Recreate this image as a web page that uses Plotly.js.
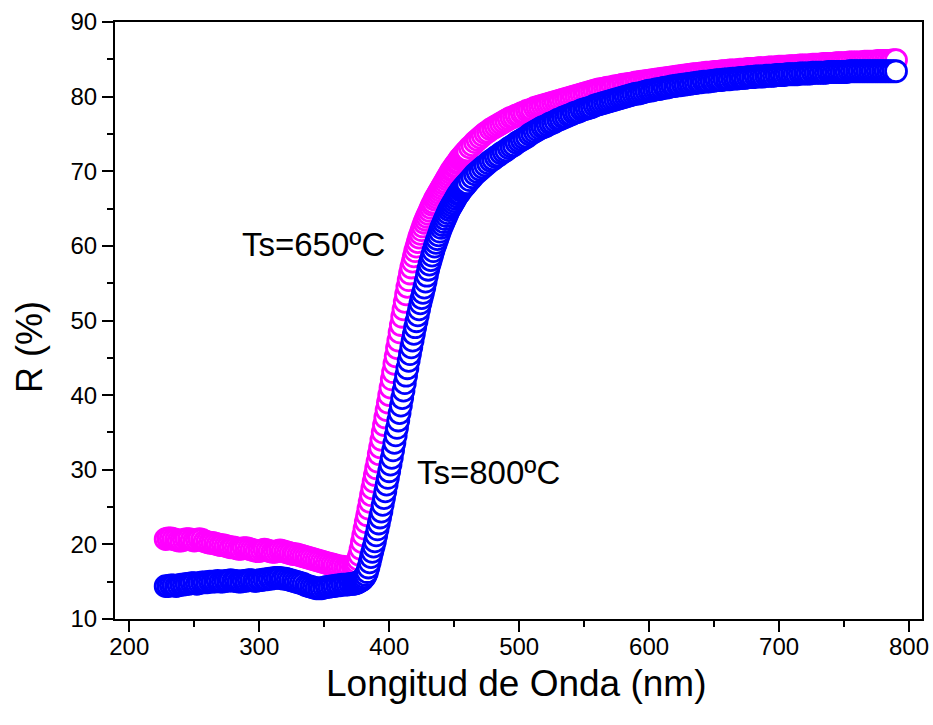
<!DOCTYPE html>
<html>
<head>
<meta charset="utf-8">
<script src="https://cdn.plot.ly/plotly-3.0.1.min.js"></script>
<style>html,body{margin:0;padding:0;background:#fff;}#chart{width:933px;height:725px;}</style>
</head>
<body>
<div id="chart"></div>
<script>
// Wavelength grid (nm), shared by both series
const wavelength = [
228,230,232,234,236,238,240,242,244,246,248,250,252,254,256,258,260,262,264,266,
268,270,272,274,276,278,280,282,284,286,288,290,292,294,296,298,300,302,304,306,
308,310,312,314,316,318,320,322,324,326,328,330,332,334,336,338,340,342,344,346,
348,350,352,354,356,358,360,362,364,366,368,370,372,
373,374,375,376,377,378,379,380,381,382,383,384,385,386,387,388,389,390,391,392,
393,394,395,396,397,398,399,400,401,402,403,404,405,406,407,408,409,410,411,412,
413,414,415,416,417,418,419,420,421,422,423,424,425,426,427,428,429,430,431,432,
433,434,435,436,437,438,439,440,441,442,443,444,445,446,447,448,449,450,451,452,
453,454,455,456,457,458,459,460,
462,464,466,468,470,472,474,476,478,480,482,484,486,488,490,492,494,496,498,500,
502,504,506,508,510,512,514,516,518,520,522,524,526,528,530,532,534,536,538,540,
542,544,546,548,550,552,554,556,558,560,562,564,566,568,570,572,574,576,578,580,
582,584,586,588,590,592,594,596,598,600,602,604,606,608,610,612,614,616,618,620,
622,624,626,628,630,632,634,636,638,640,642,644,646,648,650,652,654,656,658,660,
662,664,666,668,670,672,674,676,678,680,682,684,686,688,690,692,694,696,698,700,
702,704,706,708,710,712,714,716,718,720,722,724,726,728,730,732,734,736,738,740,
742,744,746,748,750,752,754,756,758,760,762,764,766,768,770,772,774,776,778,780,
782,784,786,788,790
];

// R (%) for Ts = 650 ºC (magenta)
const r650 = [
20.7,20.8,20.8,20.7,20.6,20.5,20.5,20.6,20.7,20.7,
20.6,20.5,20.6,20.7,20.6,20.4,20.3,20.2,20.2,20.1,
20.0,19.9,19.9,19.8,19.7,19.6,19.6,19.5,19.4,19.4,
19.5,19.5,19.4,19.3,19.2,19.1,19.1,19.2,19.3,19.2,
19.1,19.0,19.0,19.1,19.2,19.1,19.0,18.9,18.8,18.7,
18.7,18.6,18.5,18.4,18.3,18.2,18.1,18.0,17.9,17.8,
17.7,17.6,17.5,17.4,17.3,17.2,17.1,17.0,17.0,16.9,
16.9,16.9,17.0,
17.1,17.3,17.6,18.0,18.6,19.4,20.3,21.2,22.1,23.0,
23.9,24.8,25.7,26.6,27.5,28.4,29.3,30.2,31.1,32.1,
33.0,34.0,35.0,36.0,37.0,38.0,39.0,40.0,41.0,42.1,
43.1,44.2,45.2,46.3,47.3,48.4,49.4,50.5,51.5,52.5,
53.5,54.5,55.4,56.3,57.1,57.9,58.6,59.3,59.9,60.5,
61.1,61.6,62.1,62.6,63.1,63.5,63.9,64.3,64.7,65.1,
65.5,65.8,66.2,66.5,66.8,67.1,67.4,67.7,68.0,68.3,
68.6,68.9,69.2,69.5,69.8,70.1,70.3,70.6,70.8,71.1,
71.3,71.6,71.8,72.0,72.2,72.4,72.6,72.8,
73.2,73.5,73.9,74.2,74.5,74.8,75.1,75.3,75.6,75.8,
76.0,76.2,76.4,76.6,76.8,77.0,77.2,77.3,77.5,77.6,
77.8,77.9,78.1,78.2,78.3,78.5,78.6,78.7,78.8,78.9,
79.0,79.1,79.2,79.3,79.4,79.5,79.6,79.7,79.8,79.9,
80.0,80.1,80.2,80.3,80.4,80.5,80.6,80.7,80.8,80.9,
81.0,81.0,81.1,81.2,81.2,81.3,81.4,81.4,81.5,81.6,
81.6,81.7,81.7,81.8,81.9,81.9,82.0,82.0,82.1,82.1,
82.2,82.2,82.3,82.3,82.4,82.4,82.5,82.5,82.6,82.6,
82.7,82.7,82.8,82.8,82.9,82.9,83.0,83.0,83.0,83.1,
83.1,83.2,83.2,83.2,83.3,83.3,83.3,83.4,83.4,83.4,
83.5,83.5,83.5,83.5,83.6,83.6,83.6,83.7,83.7,83.7,
83.7,83.8,83.8,83.8,83.8,83.9,83.9,83.9,83.9,84.0,
84.0,84.0,84.0,84.1,84.1,84.1,84.1,84.2,84.2,84.2,
84.2,84.2,84.3,84.3,84.3,84.3,84.4,84.4,84.4,84.4,
84.4,84.5,84.5,84.5,84.5,84.5,84.6,84.6,84.6,84.6,
84.6,84.6,84.7,84.7,84.7,84.7,84.7,84.8,84.8,84.8,
84.8,84.8,84.8,84.9,84.9
];

// R (%) for Ts = 800 ºC (blue)
const r800 = [
14.4,14.4,14.5,14.5,14.4,14.5,14.6,14.6,14.7,14.7,
14.8,14.8,14.7,14.8,14.9,14.9,14.9,15.0,15.0,15.0,
15.1,15.0,15.0,15.1,15.1,15.2,15.1,15.1,15.0,15.0,
15.1,15.1,15.2,15.2,15.1,15.1,15.2,15.2,15.3,15.3,
15.4,15.4,15.5,15.5,15.5,15.4,15.4,15.3,15.2,15.1,
15.0,14.9,14.8,14.7,14.5,14.4,14.3,14.2,14.1,14.1,
14.1,14.2,14.3,14.3,14.4,14.4,14.5,14.5,14.6,14.6,
14.6,14.7,14.7,
14.7,14.8,14.8,14.9,15.0,15.1,15.2,15.4,15.6,15.9,
16.3,16.9,17.6,18.3,19.0,19.7,20.4,21.2,22.0,22.8,
23.6,24.4,25.3,26.2,27.1,28.0,28.9,29.8,30.7,31.6,
32.6,33.6,34.6,35.6,36.6,37.6,38.6,39.6,40.6,41.6,
42.6,43.6,44.6,45.5,46.4,47.3,48.2,49.1,49.9,50.7,
51.5,52.3,53.0,53.7,54.4,55.2,56.0,56.8,57.5,58.1,
58.7,59.3,59.9,60.4,60.9,61.4,61.9,62.4,62.8,63.2,
63.6,64.0,64.4,64.8,65.1,65.4,65.7,66.0,66.3,66.6,
66.9,67.1,67.4,67.6,67.8,68.0,68.2,68.4,
68.8,69.2,69.6,69.9,70.2,70.5,70.8,71.1,71.4,71.6,
71.9,72.1,72.4,72.6,72.8,73.1,73.3,73.5,73.8,74.0,
74.2,74.4,74.6,74.9,75.1,75.3,75.5,75.7,75.9,76.0,
76.2,76.4,76.5,76.7,76.9,77.0,77.2,77.3,77.5,77.6,
77.8,77.9,78.0,78.2,78.3,78.4,78.5,78.6,78.8,78.9,
79.0,79.1,79.2,79.3,79.4,79.5,79.6,79.7,79.8,79.9,
80.0,80.1,80.2,80.3,80.4,80.4,80.5,80.6,80.7,80.8,
80.8,80.9,81.0,81.0,81.1,81.2,81.2,81.3,81.4,81.4,
81.5,81.5,81.6,81.6,81.7,81.7,81.8,81.8,81.9,81.9,
82.0,82.0,82.0,82.1,82.1,82.2,82.2,82.2,82.3,82.3,
82.3,82.4,82.4,82.4,82.5,82.5,82.5,82.6,82.6,82.6,
82.7,82.7,82.7,82.7,82.8,82.8,82.8,82.8,82.9,82.9,
82.9,82.9,83.0,83.0,83.0,83.0,83.0,83.1,83.1,83.1,
83.1,83.1,83.2,83.2,83.2,83.2,83.2,83.2,83.3,83.3,
83.3,83.3,83.3,83.3,83.3,83.3,83.4,83.4,83.4,83.4,
83.4,83.4,83.4,83.4,83.4,83.4,83.4,83.4,83.4,83.4,
83.4,83.4,83.4,83.4,83.4
];

const xTicks = [200, 300, 400, 500, 600, 700, 800];
const yTicks = [10, 20, 30, 40, 50, 60, 70, 80, 90];
const labels = ['Ts=650ºC', 'Ts=800ºC'];
const labelX = [341.5, 476.5];
const labelY = [60.2, 29.6];
const xTitle = 'Longitud de Onda (nm)';
const yTitle = 'R (%)';

const FONT = 'Liberation Sans, Arial, sans-serif';

const traces = [
  {
    x: wavelength, y: r650, type: 'scatter', mode: 'markers', name: labels[0],
    marker: {symbol: 'circle', size: 21, color: '#ffffff', line: {color: '#ff00ff', width: 2.8}}
  },
  {
    x: wavelength, y: r800, type: 'scatter', mode: 'markers', name: labels[1],
    marker: {symbol: 'circle', size: 21, color: '#ffffff', line: {color: '#0000ff', width: 2.8}}
  }
];

const axisCommon = {
  showline: true, linewidth: 2, linecolor: '#000', mirror: true,
  showgrid: false, zeroline: false,
  ticks: 'outside', ticklen: 11, tickwidth: 2, tickcolor: '#000',
  tickfont: {family: FONT, size: 24, color: '#000'}
};

const layout = {
  width: 933, height: 725,
  margin: {l: 115, r: 11, t: 22, b: 106, pad: 0},
  paper_bgcolor: '#fff', plot_bgcolor: '#fff',
  showlegend: false,
  font: {family: FONT, color: '#000'},
  xaxis: Object.assign({}, axisCommon, {
    range: [189, 810], tickmode: 'array', tickvals: xTicks, ticktext: xTicks.map(String),
    ticklabelstandoff: -6,
    minor: {ticks: 'outside', ticklen: 6, tickwidth: 2, tickcolor: '#000', tick0: 150, dtick: 50, showgrid: false}
  }),
  yaxis: Object.assign({}, axisCommon, {
    range: [10, 90], tickmode: 'array', tickvals: yTicks, ticktext: yTicks.map(String),
    minor: {ticks: 'outside', ticklen: 6, tickwidth: 2, tickcolor: '#000', tick0: 5, dtick: 5, showgrid: false}
  }),
  annotations: labels.map((t, i) => ({
    x: labelX[i], y: labelY[i], xref: 'x', yref: 'y', text: t, showarrow: false,
    font: {family: FONT, size: 33, color: '#000'}
  })).concat([
    {
      x: -0.105, y: 0.456, xref: 'paper', yref: 'paper', text: yTitle, textangle: -90,
      showarrow: false, xanchor: 'center', yanchor: 'middle',
      font: {family: FONT, size: 36, color: '#000'}
    },
    {
      x: 0.4975, y: -0.1073, xref: 'paper', yref: 'paper', text: xTitle,
      showarrow: false, xanchor: 'center', yanchor: 'middle',
      font: {family: FONT, size: 37, color: '#000'}
    }
  ])
};

Plotly.newPlot('chart', traces, layout, {displayModeBar: false, staticPlot: true});
</script>
</body>
</html>
